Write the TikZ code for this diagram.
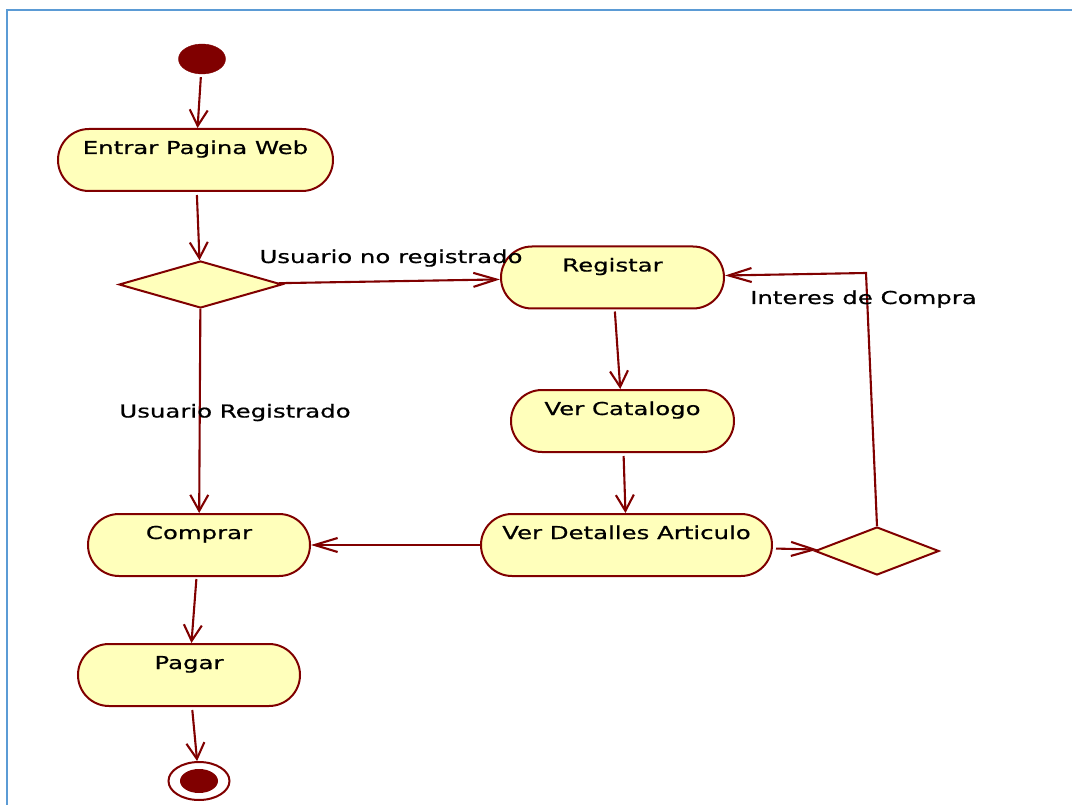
\documentclass[tikz,border=0pt]{standalone}
\usepackage{fontspec}
\setmainfont{DejaVu Sans}[FakeStretch=1.37,FakeBold=0.7]
\usetikzlibrary{arrows.meta,shapes.geometric}
\definecolor{umlred}{RGB}{128,0,0}
\definecolor{umlfill}{RGB}{255,255,187}
\definecolor{frameblue}{RGB}{91,155,213}

\begin{document}
\begin{tikzpicture}[x=1pt,y=-1pt,
  font=\fontsize{17.8pt}{21pt}\selectfont,
  action/.style={draw=umlred, fill=umlfill, line width=2pt,
    rounded corners=31pt, minimum height=62pt, inner sep=0pt,
    text height=12pt, text depth=24pt},
  decision/.style={diamond, draw=umlred, fill=umlfill, line width=2pt,
    inner sep=0pt},
  startdot/.style={ellipse, draw=umlred, fill=umlred, inner sep=0pt,
    minimum width=47pt, minimum height=30pt},
  endring/.style={ellipse, draw=umlred, fill=white, line width=2pt,
    inner sep=0pt, minimum width=61pt, minimum height=38pt},
  enddot/.style={ellipse, fill=umlred, inner sep=0pt,
    minimum width=38pt, minimum height=24pt},
  vflow/.style={draw=umlred, line width=2.1pt,
    -{Straight Barb[length=16pt,width=18pt]}},
  hflow/.style={draw=umlred, line width=2.1pt,
    -{Straight Barb[length=23pt,width=14pt]}},
  lbl/.style={inner sep=0pt, anchor=base}]

\useasboundingbox (0,0) rectangle (1072,805);

% frame
\draw[frameblue, line width=2pt] (6.5,810) -- (6.5,10.5) -- (1080,10.5);

% activity nodes
\node[startdot] (start) at (202,59) {};
\node[action, minimum width=275pt] (entrar) at (195.5,160) {Entrar Pagina Web};
\node[decision, minimum width=163pt, minimum height=47pt] (d1) at (200.5,284.5) {};
\node[action, minimum width=223pt] (registar) at (612.5,277.5) {Registar};
\node[action, minimum width=223pt] (vercat) at (622.5,421) {Ver Catalogo};
\node[action, minimum width=291pt] (detalles) at (626.5,545) {Ver Detalles Articulo};
\node[action, minimum width=222pt] (comprar) at (199,545) {Comprar};
\node[action, minimum width=222pt] (pagar) at (189,675) {Pagar};
\node[decision, minimum width=124pt, minimum height=48pt] (d2) at (877,551) {};
\node[endring] (fin) at (199,781) {};
\node[enddot] (findot) at (199,781) {};
\coordinate (loop) at (866,273);

% transitions
\draw[vflow, shorten <=3pt] (start) -- (entrar);
\draw[vflow, shorten <=3pt] (entrar) -- (d1);
\draw[hflow] (d1) -- (registar);
\draw[vflow] (d1) -- (comprar);
\draw[vflow, shorten <=2pt] (registar) -- (vercat);
\draw[vflow, shorten <=3pt] (vercat) -- (detalles);
\draw[hflow] (detalles) -- (comprar);
\draw[hflow, shorten <=3pt] (detalles) -- (d2);
\draw[hflow] (d2.north) -- (loop) -- (registar);
\draw[vflow, shorten <=2pt] (comprar) -- (pagar);
\draw[vflow, shorten <=3pt] (pagar) -- (fin);

% guard labels
\node[lbl] (gno) at (391,263) {Usuario no registrado};
\node[lbl] (gsi) at (235,417.5) {Usuario Registrado};
\node[lbl] (gint) at (863.5,304) {Interes de Compra};
\end{tikzpicture}
\end{document}
